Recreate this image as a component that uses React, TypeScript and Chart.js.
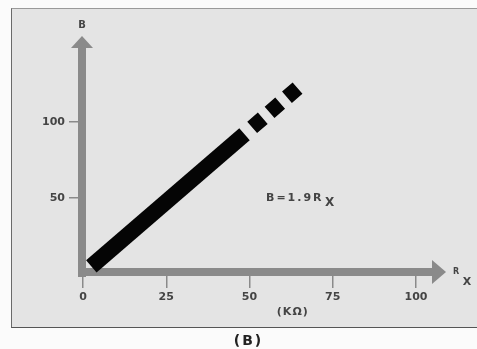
import React, { useEffect, useRef } from "react";
import { Chart, registerables } from "chart.js";

Chart.register(...registerables);

const xTickValues = [0, 25, 50, 75, 100];
const yTickValues = [50, 100];
const solidRx = [2.5, 48.5];
const solidB = [5, 92];
const dashedRx = [50.8, 64.5];
const dashedB = [96.5, 122.5];

const AXIS_GRAY = "#8a8a8a";
const TEXT_COLOR = "#444";
const FONT = "'DejaVu Sans', 'Liberation Sans', sans-serif";

const arrowsAndLabels = {
  id: "arrowsAndLabels",
  beforeDatasetsDraw(chart: any) {
    const { ctx } = chart;
    const xs = chart.scales.x;
    const ys = chart.scales.y;
    const x0 = xs.getPixelForValue(0) - 1;
    const y0 = ys.getPixelForValue(0) - 2;
    const top = chart.chartArea.top;
    const right = chart.chartArea.right;
    ctx.save();
    ctx.fillStyle = AXIS_GRAY;
    ctx.fillRect(x0 - 4, top + 8, 8, y0 - top - 3);
    ctx.beginPath();
    ctx.moveTo(x0 - 11, top + 8);
    ctx.lineTo(x0 + 11, top + 8);
    ctx.lineTo(x0, top - 4);
    ctx.closePath();
    ctx.fill();
    ctx.fillRect(x0 - 4, y0 - 4, right - 14 - (x0 - 4), 8);
    ctx.beginPath();
    ctx.moveTo(right - 14, y0 - 12);
    ctx.lineTo(right - 14, y0 + 12);
    ctx.lineTo(right, y0);
    ctx.closePath();
    ctx.fill();
    ctx.restore();
  },
  afterDraw(chart: any) {
    const { ctx } = chart;
    const xs = chart.scales.x;
    const ys = chart.scales.y;
    const x0 = xs.getPixelForValue(0);
    const y0 = ys.getPixelForValue(0);
    ctx.save();
    ctx.fillStyle = TEXT_COLOR;
    ctx.textBaseline = "middle";
    ctx.textAlign = "center";
    ctx.font = `bold 10px ${FONT}`;
    ctx.fillText("B", x0 - 1, 25);
    ctx.font = `bold 8px ${FONT}`;
    ctx.fillText("R", 456, y0 - 2);
    ctx.font = `bold 11px ${FONT}`;
    ctx.fillText("X", 467, y0 + 8);
    ctx.font = `bold 11px ${FONT}`;
    (ctx as any).letterSpacing = "1px";
    ctx.fillText("(KΩ)", xs.getPixelForValue(63), 312);
    ctx.textAlign = "left";
    ctx.font = `bold 11px ${FONT}`;
    (ctx as any).letterSpacing = "2px";
    ctx.fillText("B=1.9R", 266, 198);
    (ctx as any).letterSpacing = "0px";
    ctx.font = `bold 12px ${FONT}`;
    ctx.fillText("X", 325, 203);
    ctx.restore();
  },
};

export default function App() {
  const ref = useRef<HTMLCanvasElement | null>(null);

  useEffect(() => {
    if (!ref.current) return;
    const chart = new Chart(ref.current, {
      type: "scatter",
      data: {
        datasets: [
          {
            data: solidRx.map((x, i) => ({ x, y: solidB[i] })),
            showLine: true,
            borderColor: "#050505",
            borderWidth: 16,
            borderCapStyle: "butt",
            pointRadius: 0,
          },
          {
            data: dashedRx.map((x, i) => ({ x, y: dashedB[i] })),
            showLine: true,
            borderColor: "#050505",
            borderWidth: 15,
            borderCapStyle: "butt",
            borderDash: [14, 9],
            pointRadius: 0,
          },
        ],
      },
      plugins: [arrowsAndLabels],
      options: {
        responsive: false,
        animation: false,
        devicePixelRatio: 1,
        layout: { padding: { left: 0, right: 31, top: 40, bottom: 0 } },
        plugins: {
          legend: { display: false },
          tooltip: { enabled: false },
        },
        scales: {
          x: {
            type: "linear",
            min: 0,
            max: 109,
            afterBuildTicks: (scale: any) => {
              scale.ticks = xTickValues.map((v) => ({ value: v }));
            },
            afterFit: (scale: any) => {
              scale.height = 75;
            },
            border: { display: false },
            grid: {
              drawOnChartArea: false,
              drawTicks: true,
              tickLength: 14,
              color: AXIS_GRAY,
              lineWidth: 1.5,
            },
            ticks: {
              color: TEXT_COLOR,
              font: { family: FONT, size: 11, weight: "bold" },
              padding: 3,
              maxRotation: 0,
            },
          },
          y: {
            type: "linear",
            min: 0,
            max: 154,
            afterBuildTicks: (scale: any) => {
              scale.ticks = yTickValues.map((v) => ({ value: v }));
            },
            afterFit: (scale: any) => {
              scale.width = 83;
            },
            border: { display: false },
            grid: {
              drawOnChartArea: false,
              drawTicks: true,
              tickLength: 14,
              color: AXIS_GRAY,
              lineWidth: 1.5,
            },
            ticks: {
              color: TEXT_COLOR,
              font: { family: FONT, size: 11, weight: "bold" },
              padding: 4,
            },
          },
        },
      },
    });
    return () => chart.destroy();
  }, []);

  return (
    <div style={{ position: "fixed", left: 0, top: 0, width: 477, height: 349, background: "#fbfbfb", overflow: "hidden" }}>
      <div
        style={{
          position: "absolute",
          left: 11,
          top: 8,
          width: 480,
          height: 318,
          background: "#e4e4e4",
          borderTop: "1px solid #9a9a9a",
          borderLeft: "1px solid #6a6a6a",
          borderBottom: "1px solid #555",
        }}
      />
      <canvas ref={ref} width={477} height={349} style={{ position: "absolute", left: 0, top: 0, width: 477, height: 349 }} />
      <div
        style={{
          position: "absolute",
          left: 0,
          width: 497,
          top: 333,
          textAlign: "center",
          fontFamily: FONT,
          fontSize: 14,
          fontWeight: "bold",
          letterSpacing: 2,
          color: "#222",
          lineHeight: "15px",
        }}
      >
        (B)
      </div>
    </div>
  );
}
